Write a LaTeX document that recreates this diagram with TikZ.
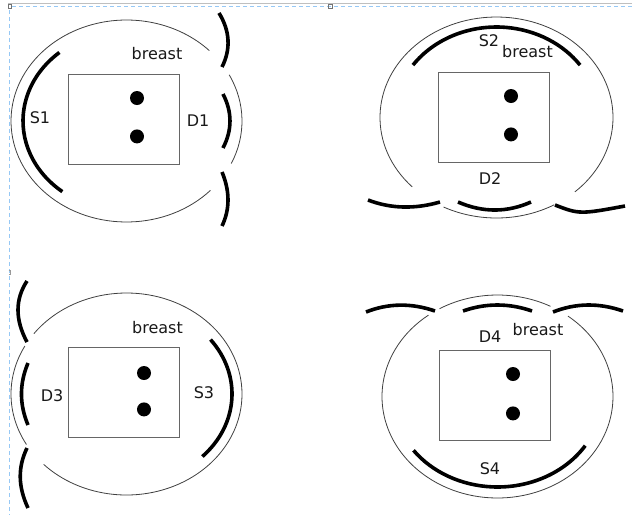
\documentclass[tikz,border=0pt]{standalone}
\usepackage{fontspec}
\setmainfont{DejaVu Sans}
\usetikzlibrary{positioning}

\begin{document}
\begin{tikzpicture}[
  x=1pt,y=-1pt,
  ring/.style={draw=black!75,line width=0.8pt},
  band/.style={line width=3.6pt},
  tray/.style={draw=black!60,line width=0.8pt,minimum width=111pt,
    minimum height=90pt,inner sep=0pt},
  dot/.style={circle,fill=black,inner sep=0pt,minimum size=14pt},
  tag/.style={font=\fontsize{16}{19}\selectfont,text=black!90,inner sep=0pt},
  guide/.style={draw={rgb,255:red,150;green,200;blue,245},line width=1pt,
    dash pattern=on 4pt off 3pt}
]
  \useasboundingbox[fill=white] (0,0) rectangle (632,515);

  % page guides
  \draw[black!25,line width=1.2pt] (8,3.5) -- (632,3.5);
  \draw[guide] (12,6.5) -- (632,6.5);
  \draw[guide] (9,10) -- (9,515);
  \draw[black!55,line width=0.6pt] (8,4) rectangle (11.5,8);
  \draw[black!55,line width=0.6pt] (328.5,4.5) rectangle (332.5,8.5);
  \draw[black!40,line width=0.6pt] (8.5,270.5) -- (10.5,270.5) -- (10.5,274) -- (8.5,274);

  % top left
  \coordinate (c1) at (126.5,121);
  \draw[ring] (c1) ++(43.4:115.5 and 101)
    arc[start angle=43.4,end angle=315.8,x radius=115.5,y radius=101];
  \draw[ring] (c1) ++(-27.2:115.5 and 101)
    arc[start angle=-27.2,end angle=24.9,x radius=115.5,y radius=101];
  \draw[band] (c1) ++(128.3:103.5 and 90)
    arc[start angle=128.3,end angle=229.6,x radius=103.5,y radius=90];
  \draw[band] (219,13) .. controls (230,31) and (231,49) .. (222,67);
  \draw[band] (223,94) .. controls (232.3,112) and (232.3,130) .. (223,148);
  \draw[band] (222,172) .. controls (230,191.3) and (230,209.3) .. (222,226);
  \node[tray] (box1) at (123.5,119) {};
  \node[dot] (d1a) at (137,98) {};
  \node[dot,below=24pt of d1a] (d1b) {};
  \node[tag] (br1) at (157,54) {breast};
  \node[tag] (s1) at (40,117.5) {S1};
  \node[tag] (t1) at (198,121) {D1};

  % top right
  \coordinate (c2) at (496.5,117.5);
  \draw[ring] (c2) ++(136.3:116.5 and 100.5)
    arc[start angle=136.3,end angle=407.7,x radius=116.5,y radius=100.5];
  \draw[ring] (c2) ++(60.3:116.5 and 100.5)
    arc[start angle=60.3,end angle=117,x radius=116.5,y radius=100.5];
  \draw[band] (c2) ++(215.4:102.5 and 90.5)
    arc[start angle=215.4,end angle=324.6,x radius=102.5,y radius=90.5];
  \draw[band] (368,200) .. controls (390.7,208.7) and (414.7,209.3) .. (440,202);
  \draw[band] (458,202) .. controls (482.7,212.7) and (507,212.7) .. (531,202);
  \draw[band] (555,205) .. controls (579,214.3) and (580.3,214.3) .. (625,206);
  \node[tray] (box2) at (493.5,117) {};
  \node[dot] (d2a) at (511,96) {};
  \node[dot,below=24pt of d2a] (d2b) {};
  \node[tag] (s2) at (489,41) {S2};
  \node[tag] (br2) at (527.5,52) {breast};
  \node[tag] (t2) at (490,179) {D2};

  % bottom left
  \coordinate (c3) at (126.5,394);
  \draw[ring] (c3) ++(216.7:115.5 and 101)
    arc[start angle=216.7,end angle=495.8,x radius=115.5,y radius=101];
  \draw[ring] (c3) ++(150:115.5 and 101)
    arc[start angle=150,end angle=208.4,x radius=115.5,y radius=101];
  \draw[band] (c3) ++(-37.2:105.5 and 90)
    arc[start angle=-37.2,end angle=44,x radius=105.5,y radius=90];
  \draw[band] (27,281) .. controls (15,299.3) and (15,319.7) .. (27,342);
  \draw[band] (28,363) .. controls (19.3,383.7) and (19.3,404.3) .. (28,425);
  \draw[band] (27,448) .. controls (17.7,467.3) and (18,486.7) .. (28,508);
  \node[tray] (box3) at (123.5,392) {};
  \node[dot] (d3a) at (144,373) {};
  \node[dot,below=22pt of d3a] (d3b) {};
  \node[tag] (br3) at (157.5,327.5) {breast};
  \node[tag] (t3) at (52,396) {D3};
  \node[tag] (s3) at (204,392.5) {S3};

  % bottom right
  \coordinate (c4) at (497.5,396.5);
  \draw[ring] (c4) ++(307.6:115.5 and 101.5)
    arc[start angle=307.6,end angle=593.3,x radius=115.5,y radius=101.5];
  \draw[ring] (c4) ++(239.9:115.5 and 101.5)
    arc[start angle=239.9,end angle=297.3,x radius=115.5,y radius=101.5];
  \draw[band] (c4) ++(32.9:104.5 and 90.5)
    arc[start angle=32.9,end angle=143.5,x radius=104.5,y radius=90.5];
  \draw[band] (366,312) .. controls (388.7,303) and (411.7,303) .. (435,311);
  \draw[band] (463,311) .. controls (485.7,303) and (509,303) .. (532,311);
  \draw[band] (553,312) .. controls (575.7,303) and (599,302.7) .. (623,311);
  \node[tray] (box4) at (494.5,395) {};
  \node[dot] (d4a) at (513,374) {};
  \node[dot,below=25pt of d4a] (d4b) {};
  \node[tag] (t4) at (490,337) {D4};
  \node[tag] (br4) at (538,329.5) {breast};
  \node[tag] (s4) at (490,469) {S4};
\end{tikzpicture}
\end{document}
